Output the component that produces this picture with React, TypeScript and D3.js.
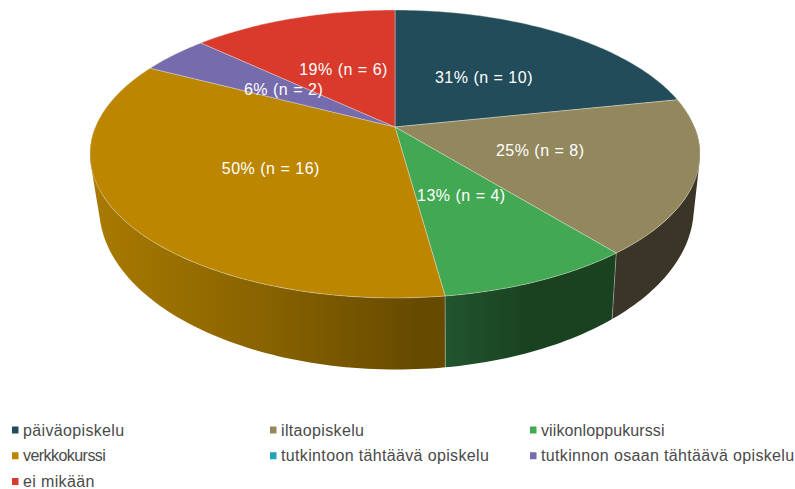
import React from 'react';
import * as d3 from 'd3';

const WIDTH = 795;
const HEIGHT = 489;

const CATEGORIES = [
  'päiväopiskelu',
  'iltaopiskelu',
  'viikonloppukurssi',
  'verkkokurssi',
  'tutkintoon tähtäävä opiskelu',
  'tutkinnon osaan tähtäävä opiskelu',
  'ei mikään',
];
const COUNTS = [10, 8, 4, 16, 0, 2, 6];
const PERCENTS = [31, 25, 13, 50, 0, 6, 19];
const COLORS = ['#234C5A', '#93875E', '#43A853', '#BC8600', '#22A3B5', '#756BAD', '#D93A2B'];
// rim shade per slice, as [x, colour] stops
const SIDE_STOPS: [number, string][][] = [
  [[0, '#1a3843'], [800, '#1a3843']],
  [[0, '#3a3526'], [800, '#3a3526']],
  [[442, '#21562f'], [530, '#1a4120']],
  [[95, '#a87a00'], [270, '#876200'], [420, '#664a00'], [442, '#664a00']],
  [[0, '#115560'], [800, '#115560']],
  [[0, '#3d3860'], [800, '#3d3860']],
  [[0, '#6e1d15'], [800, '#6e1d15']],
];

// Perspective of the disc: k is the foreshortening along the view axis
const K = 0.1875;
const TOP = { x0: 395, y0: 127, a: 299.6, b: 138.9 };
const BOTTOM = { x0: 396.5, y0: 177.5, a: 292, b: 156 };

type Plane = typeof TOP;
type Pt = [number, number];

const project = (plane: Plane, angle: number, r = 1): Pt => {
  const u = Math.sin(angle) * r;
  const v = -Math.cos(angle) * r;
  const w = 1 - K * v;
  return [plane.x0 + (plane.a * u) / w, plane.y0 + (plane.b * v) / w];
};

const pieGen = d3.pie<number>().sort(null).value(d => d);
const slices = pieGen(COUNTS);

const line = d3.line();

const sampleAngles = (from: number, to: number, step = 0.02) => {
  const n = Math.max(2, Math.ceil((to - from) / step));
  return d3.range(n + 1).map(i => from + ((to - from) * i) / n);
};

// All strips of one rim piece in a single path, wound the same way, so no seams show
const rimPath = (from: number, to: number) => {
  const angles = sampleAngles(from, to);
  return angles
    .slice(1)
    .map((a, j) => {
      const quad: Pt[] = [project(TOP, angles[j]), project(TOP, a), project(BOTTOM, a), project(BOTTOM, angles[j])];
      if ((d3.polygonArea(quad) ?? 0) < 0) quad.reverse();
      return line(quad) + 'Z';
    })
    .join('');
};

const legendX = d3.scaleOrdinal<number, number>().domain([0, 1, 2]).range([12, 270, 530]);
const legendY = d3.scalePoint<number>().domain([0, 1, 2]).range([430, 481.5]);

const FONT = "'Liberation Sans', Arial, sans-serif";
const EDGE = '#d8d8d0';
// the picture squeezes these two words
const LEGEND_SPACING: { [k: string]: number } = { verkkokurssi: -0.55, viikonloppukurssi: 0.1 };

const App: React.FC = () => {
  const frontStart = Math.PI / 2;
  const frontEnd = (3 * Math.PI) / 2;

  return (
    <svg
      width={WIDTH}
      height={HEIGHT}
      style={{ position: 'absolute', left: 0, top: 0, display: 'block', background: '#fff' }}
    >
      <defs>
        {SIDE_STOPS.map((stops, i) => {
          const x1 = stops[0][0];
          const x2 = stops[stops.length - 1][0];
          return (
            <linearGradient key={i} id={`side-${i}`} gradientUnits="userSpaceOnUse" x1={x1} x2={x2} y1={0} y2={0}>
              {stops.map(([x, c]) => (
                <stop key={x} offset={(x - x1) / (x2 - x1)} stopColor={c} />
              ))}
            </linearGradient>
          );
        })}
      </defs>

      {/* rim, only the part that faces the viewer */}
      {slices.map((s, i) => {
        const from = Math.max(s.startAngle, frontStart);
        const to = Math.min(s.endAngle, frontEnd);
        if (to <= from) return null;
        return <path key={i} d={rimPath(from, to)} fill={`url(#side-${i})`} />;
      })}

      {/* seams between the rim pieces */}
      {slices.map((s, i) => {
        if (s.endAngle <= s.startAngle) return null;
        if (s.endAngle < frontStart || s.endAngle > frontEnd) return null;
        return (
          <path
            key={i}
            d={line([project(TOP, s.endAngle), project(BOTTOM, s.endAngle)]) ?? ''}
            stroke={EDGE}
            strokeOpacity={0.6}
            strokeWidth={0.7}
            fill="none"
          />
        );
      })}

      {/* top face */}
      {slices.map((s, i) => {
        if (s.endAngle <= s.startAngle) return null;
        const rim = sampleAngles(s.startAngle, s.endAngle).map(a => project(TOP, a));
        const centre: Pt = [TOP.x0, TOP.y0];
        return (
          <path
            key={i}
            d={line([centre, ...rim]) + 'Z'}
            fill={COLORS[i]}
            stroke="#e4e4dc"
            strokeOpacity={0.6}
            strokeWidth={0.7}
            strokeLinejoin="round"
          />
        );
      })}

      {/* value labels */}
      {slices.map((s, i) => {
        if (s.endAngle <= s.startAngle) return null;
        const [x, y] = project(TOP, (s.startAngle + s.endAngle) / 2, 0.49);
        return (
          <text
            key={i}
            x={x + 2.5}
            y={y}
            dy="0.35em"
            textAnchor="middle"
            fill="#fff"
            fontFamily={FONT}
            fontSize={16}
            letterSpacing={0.5}
          >
            {`${PERCENTS[i]}% (n = ${COUNTS[i]})`}
          </text>
        );
      })}

      {/* legend */}
      {CATEGORIES.map((c, i) => {
        const x = legendX(i % 3);
        const y = legendY(Math.floor(i / 3)) as number;
        return (
          <g key={c}>
            <rect x={x} y={y - 3.5} width={6.5} height={7} fill={COLORS[i]} />
            <text
              x={x + 11}
              y={y}
              dy="0.35em"
              fill="#4a4a4a"
              fontFamily={FONT}
              fontSize={16}
              letterSpacing={LEGEND_SPACING[c] ?? 0.35}
            >
              {c}
            </text>
          </g>
        );
      })}
    </svg>
  );
};

export default App;
